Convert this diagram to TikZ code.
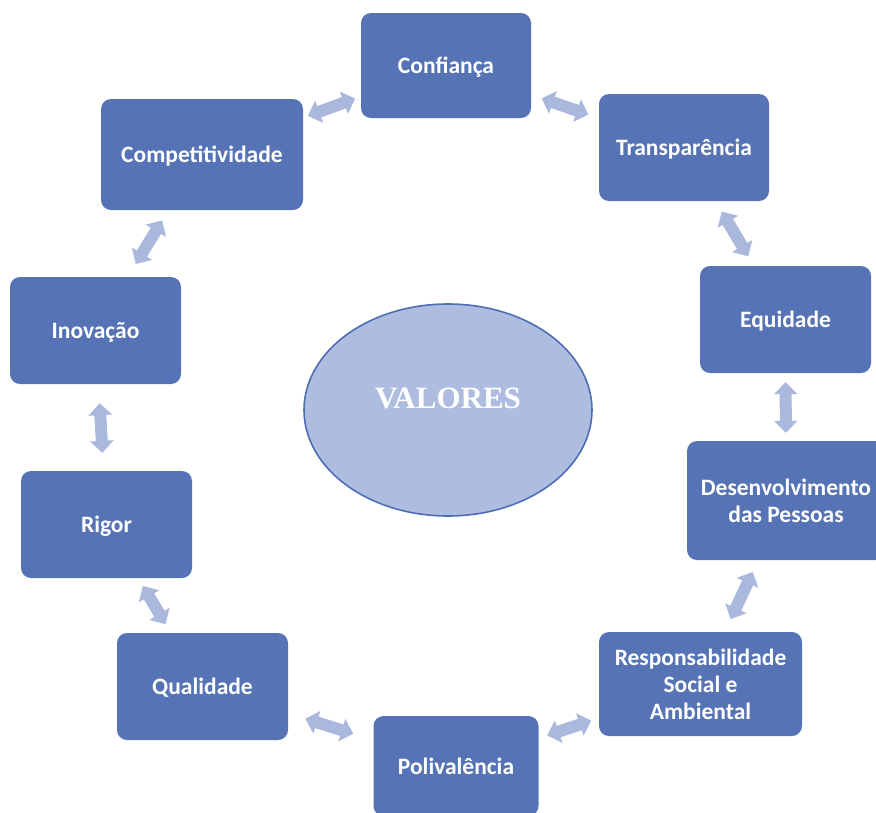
\documentclass[tikz,border=0pt]{standalone}
\usepackage{fontspec}
\setmainfont{Carlito}
\newfontfamily\titlefont{Liberation Serif}
\usepackage{xcolor}
\usetikzlibrary{arrows.meta, shapes.geometric}

\definecolor{boxblue}{RGB}{86,116,181}
\definecolor{ovalfill}{RGB}{174,188,223}
\definecolor{ovaledge}{RGB}{78,110,180}
\definecolor{arrowblue}{RGB}{171,184,221}

\begin{document}
\begin{tikzpicture}[x=1pt,y=-1pt,
  valor/.style={fill=boxblue, rounded corners=10pt, text=white, align=center,
    font=\bfseries\fontsize{23.5}{27}\selectfont, inner sep=2pt, text depth=0pt,
    minimum width=171pt, minimum height=107pt},
  seta/.style={draw=arrowblue, line width=12pt,
    {Triangle[length=12pt,width=23pt]}-{Triangle[length=12pt,width=23pt]},
    shorten <=8pt, shorten >=8pt}]
  \useasboundingbox (0,0) rectangle (876,812);
  % centre
  \node[ellipse, fill=ovalfill, draw=ovaledge, line width=1.6pt,
    minimum width=288pt, minimum height=212pt, inner sep=0pt] (valores) at (448,410) {};
  \node[text=white, font=\titlefont\bfseries\fontsize{31}{34}\selectfont] (titulo) at (448,398) {VALORES};
  % values
  \node[valor, minimum width=170pt, minimum height=105pt] (confianca) at (446,65.5) {Confiança};
  \node[valor, minimum width=170pt] (transparencia) at (684,147.5) {Transparência};
  \node[valor] (equidade) at (785.5,319.5) {Equidade};
  \node[valor, minimum width=198pt, minimum height=119pt] (desenvolvimento) at (786,500.5) {Desenvolvimento\\das Pessoas};
  \node[valor, minimum width=203pt, minimum height=104pt] (responsabilidade) at (700.5,684) {Responsabilidade\\Social e\\Ambiental};
  \node[valor, minimum width=165pt, minimum height=100pt] (polivalencia) at (456,766) {Polivalência};
  \node[valor] (qualidade) at (202.5,686.5) {Qualidade};
  \node[valor] (rigor) at (106.5,524.5) {Rigor};
  \node[valor] (inovacao) at (95.5,330.5) {Inovação};
  \node[valor, minimum width=202pt, minimum height=111pt] (competitividade) at (202,154.5) {Competitividade};
  % links
  \draw[seta, shorten <=11pt, shorten >=11pt] (confianca) -- (transparencia);
  \draw[seta, shorten <=12pt, shorten >=11pt] (transparencia) -- (equidade);
  \draw[seta, shorten <=9pt, shorten >=8pt] (equidade) -- (desenvolvimento);
  \draw[seta, shorten <=13pt, shorten >=14pt] (desenvolvimento) -- (responsabilidade);
  \draw[seta, shorten <=8pt, shorten >=9pt] (responsabilidade) -- (polivalencia);
  \draw[seta, shorten <=21pt, shorten >=18pt] (polivalencia) -- (qualidade);
  \draw[seta, shorten <=10pt, shorten >=9pt] (qualidade) -- (rigor);
  \draw[seta, shorten <=18pt, shorten >=19pt] (rigor) -- (inovacao);
  \draw[seta, shorten <=15pt, shorten >=12pt] (inovacao) -- (competitividade);
  \draw[seta, shorten <=5pt, shorten >=6pt] (competitividade) -- (confianca);
\end{tikzpicture}
\end{document}
